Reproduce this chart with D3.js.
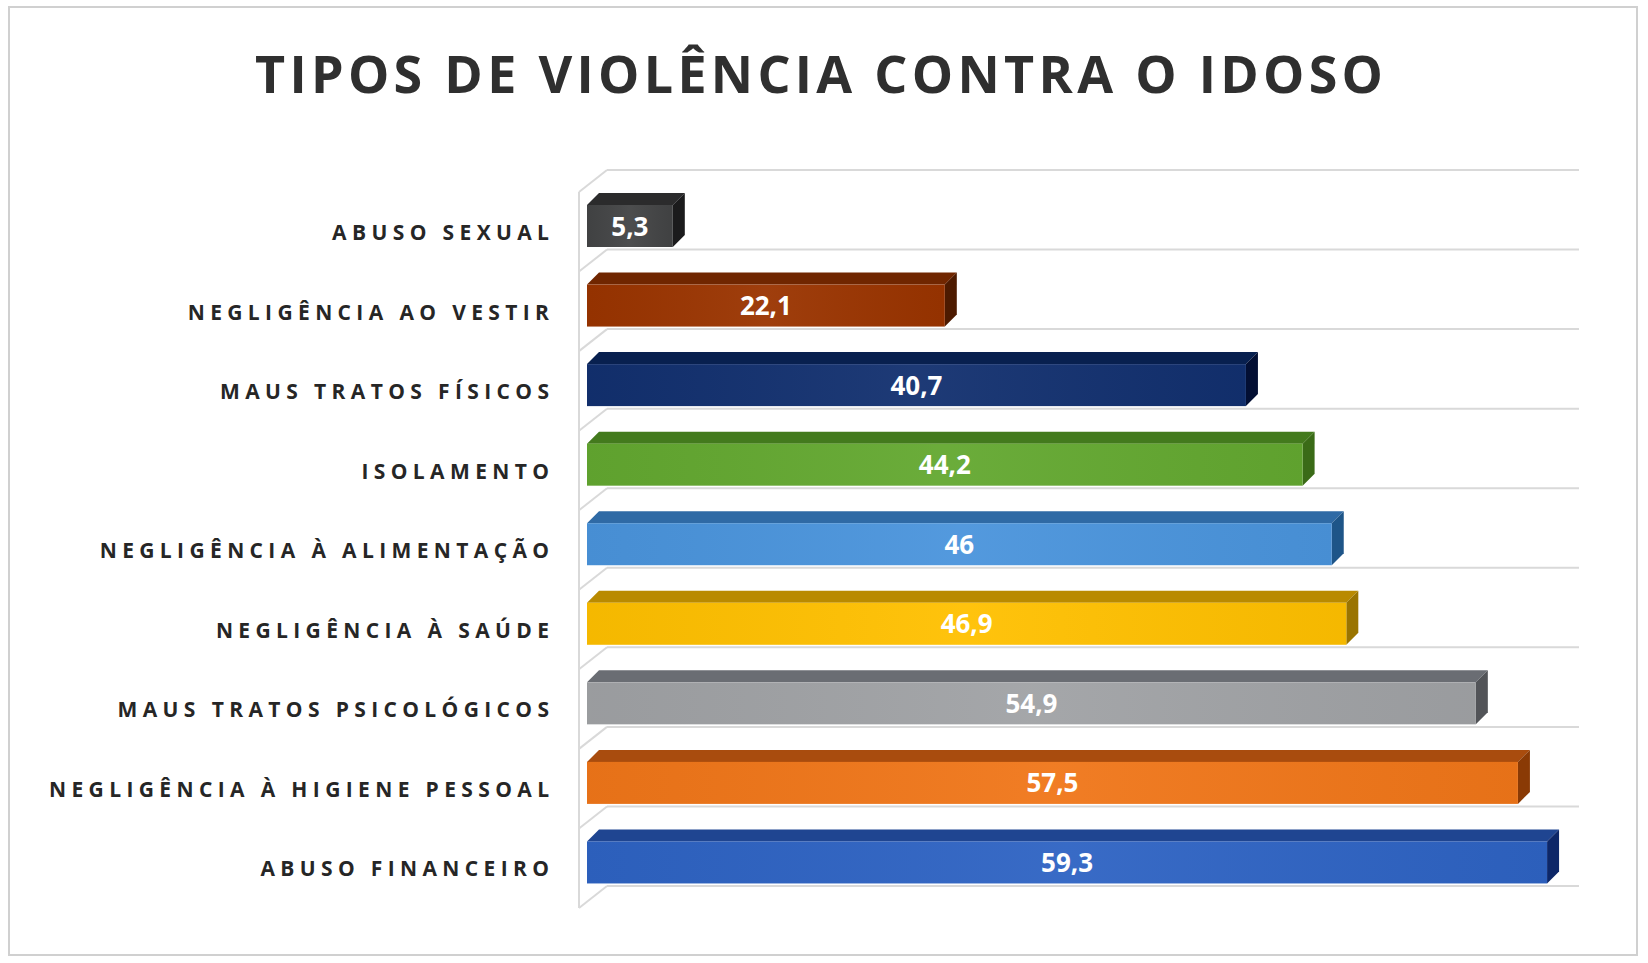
<!DOCTYPE html>
<html>
<head>
<meta charset="utf-8">
<script src="https://cdn.jsdelivr.net/npm/d3@7"></script>
<style>
  html, body { margin: 0; padding: 0; background: #ffffff; }
  svg { display: block; }
</style>
</head>
<body>
<svg id="chart" width="1648" height="963"></svg>
<script>
// ---- data ----
const title = "TIPOS DE VIOLÊNCIA CONTRA O IDOSO";
const categories = [
  "ABUSO SEXUAL",
  "NEGLIGÊNCIA AO VESTIR",
  "MAUS TRATOS FÍSICOS",
  "ISOLAMENTO",
  "NEGLIGÊNCIA À ALIMENTAÇÃO",
  "NEGLIGÊNCIA À SAÚDE",
  "MAUS TRATOS PSICOLÓGICOS",
  "NEGLIGÊNCIA À HIGIENE PESSOAL",
  "ABUSO FINANCEIRO"
];
const values = [5.3, 22.1, 40.7, 44.2, 46, 46.9, 54.9, 57.5, 59.3];
const valueLabels = ["5,3", "22,1", "40,7", "44,2", "46", "46,9", "54,9", "57,5", "59,3"];
const frontColors = ["#434445", "#9a3400", "#12306f", "#63a830", "#4a94dc", "#ffc000", "#a0a2a5", "#f07619", "#2e63c3"];
const topColors   = ["#2b2b2c", "#702600", "#08204f", "#437a1d", "#2f6aa5", "#b98a00", "#6a6d73", "#a94c0e", "#1f4591"];
const sideColors  = ["#1b1b1c", "#4d1a00", "#030f33", "#3a6b17", "#1e5588", "#9a7400", "#525458", "#8a3a05", "#0d2768"];

// ---- layout ----
const svg = d3.select("#chart");

svg.append("rect")
  .attr("x", 9).attr("y", 7).attr("width", 1628).attr("height", 948)
  .attr("fill", "#ffffff").attr("stroke", "#d0d0d0").attr("stroke-width", 2);

// subtle sheen for bar fronts
const defs = svg.append("defs");
const sheen = defs.append("linearGradient").attr("id", "sheen")
  .attr("x1", 0).attr("y1", 0).attr("x2", 1).attr("y2", 0);
sheen.append("stop").attr("offset", "0%").attr("stop-color", "#000").attr("stop-opacity", 0.04);
sheen.append("stop").attr("offset", "50%").attr("stop-color", "#fff").attr("stop-opacity", 0.05);
sheen.append("stop").attr("offset", "100%").attr("stop-color", "#000").attr("stop-opacity", 0.04);

const y = d3.scaleBand().domain(categories).range([170, 886]).padding(0);
const x = d3.scaleLinear().domain([0, 60]).range([587, 1558.4]);

const wallFrontX = 579, wallBackX = 607, wallRightX = 1579, wallDy = 22;
const depth = 12, barOffset = 35, barH = 42;
const gridColor = "#d9d9d9";

// gridlines on back wall and diagonals on side wall
const gridYs = categories.map(c => y(c)).concat([y.range()[1]]);
const g = svg.append("g");
g.selectAll("line.grid").data(gridYs).join("line")
  .attr("class", "grid")
  .attr("x1", wallBackX).attr("x2", wallRightX)
  .attr("y1", d => d).attr("y2", d => d)
  .attr("stroke", gridColor).attr("stroke-width", 2);
g.selectAll("line.diag").data(gridYs).join("line")
  .attr("class", "diag")
  .attr("x1", wallFrontX).attr("x2", wallBackX)
  .attr("y1", d => d + wallDy).attr("y2", d => d)
  .attr("stroke", gridColor).attr("stroke-width", 2);
g.append("line")
  .attr("x1", wallFrontX).attr("x2", wallFrontX)
  .attr("y1", gridYs[0] + wallDy).attr("y2", gridYs[gridYs.length - 1] + wallDy)
  .attr("stroke", gridColor).attr("stroke-width", 2);

// bars
const bars = svg.append("g").selectAll("g.bar").data(categories).join("g").attr("class", "bar");
bars.each(function(c, i) {
  const sel = d3.select(this);
  const x0 = x(0), x1 = x(values[i]);
  const ft = y(c) + barOffset;
  sel.append("path")
    .attr("d", `M${x0},${ft} L${x0 + depth},${ft - depth} L${x1 + depth},${ft - depth} L${x1},${ft} Z`)
    .attr("fill", topColors[i]);
  sel.append("path")
    .attr("d", `M${x1},${ft} L${x1 + depth},${ft - depth} L${x1 + depth},${ft - depth + barH} L${x1},${ft + barH} Z`)
    .attr("fill", sideColors[i]);
  sel.append("rect")
    .attr("x", x0).attr("y", ft).attr("width", x1 - x0).attr("height", barH)
    .attr("fill", frontColors[i]);
  sel.append("rect")
    .attr("x", x0).attr("y", ft).attr("width", x1 - x0).attr("height", barH)
    .attr("fill", "url(#sheen)");
  sel.append("text")
    .attr("x", (x0 + x1) / 2).attr("y", ft + barH / 2 + 9.5)
    .attr("text-anchor", "middle")
    .attr("font-family", "'Open Sans', sans-serif")
    .attr("font-weight", 700).attr("font-size", 26)
    .attr("fill", "#ffffff")
    .text(valueLabels[i]);
});

// category labels with letter spacing fitted to the longest label
const labelSize = 21;
const labels = svg.append("g").selectAll("text.cat").data(categories).join("text")
  .attr("class", "cat")
  .attr("font-family", "'Open Sans', sans-serif")
  .attr("font-weight", 700).attr("font-size", labelSize)
  .attr("fill", "#262626")
  .attr("text-anchor", "end")
  .text(d => d);
const longest = labels.filter(d => d === "NEGLIGÊNCIA À HIGIENE PESSOAL").node();
const natW = longest.getComputedTextLength();
const nChars = "NEGLIGÊNCIA À HIGIENE PESSOAL".length;
const ls = (500 - natW) / (nChars - 1);
labels
  .attr("letter-spacing", ls)
  .attr("x", 549 + ls)
  .attr("y", d => y(d) + barOffset + barH / 2 + 14);

// title
const t = svg.append("text")
  .attr("font-family", "'Open Sans', sans-serif")
  .attr("font-weight", 700).attr("font-size", 52)
  .attr("fill", "#2f2f2f")
  .attr("text-anchor", "middle")
  .text(title);
const tW = t.node().getComputedTextLength();
const tls = (1128 - tW) / (title.length - 1);
t.attr("letter-spacing", tls)
  .attr("x", 819 + tls / 2)
  .attr("y", 93);
</script>
</body>
</html>
